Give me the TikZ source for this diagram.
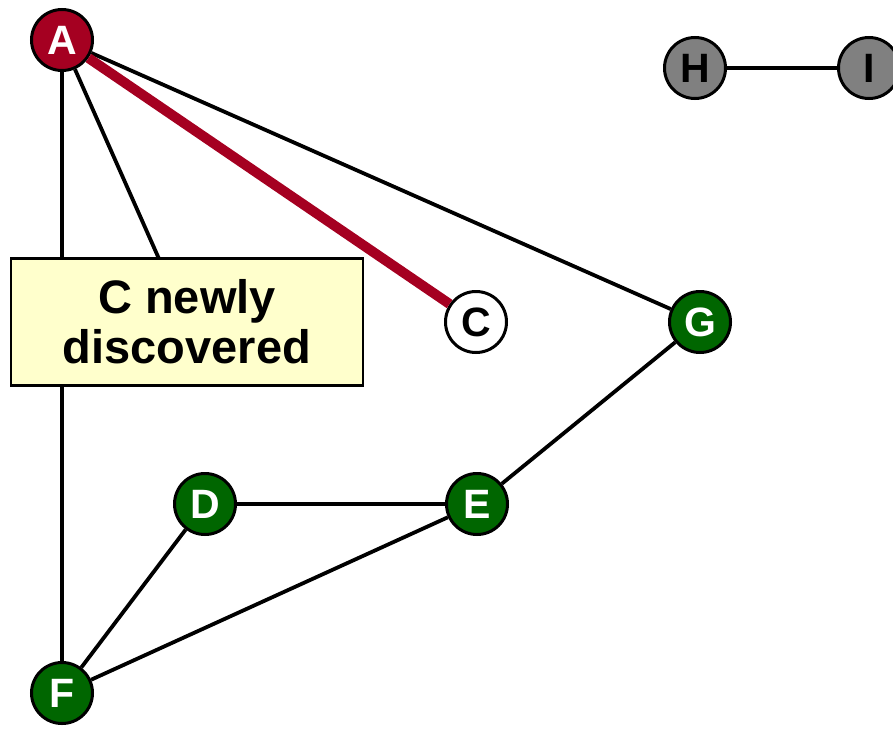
\documentclass[tikz,border=0pt]{standalone}
\usepackage{fontspec}
\setmainfont{Liberation Sans}
\usetikzlibrary{automata, positioning}
\definecolor{visitred}{HTML}{A50021}
\definecolor{donegreen}{HTML}{006600}
\definecolor{notefill}{HTML}{FFFFCC}
\tikzset{
    every state/.style={line width=3pt, minimum size=61pt, inner sep=0pt, font=\fontsize{41}{41}\selectfont\bfseries}, % sets the properties for each 'state' node
    done/.style={state, fill=donegreen, text=white}, % finished vertices
    idle/.style={state, fill=gray}, % vertices not reached
    link/.style={line width=3.8pt}, % plain graph edges
    tree/.style={line width=10pt, visitred}, % edge just used by the search
}

\begin{document}
\begin{tikzpicture}[x=1pt, y=-1pt
                  ]
                  \useasboundingbox (0,0) rectangle (893,728);
                  \clip (0,0) rectangle (893,728);
                  \node[state, fill=visitred, text=white] (a) at (62,40) {A};
                  \node[idle] (h) at (695,68) {H};
                  \node[idle] (i) at (869,68) {I};
                  \node[state, fill=white] (c) at (476,322) {C};
                  \node[done] (g) at (700,322) {G};
                  \node[done] (d) at (205,504) {D};
                  \node[done] (e) at (477,504) {E};
                  \node[done] (f) at (62,693) {F};
                  \coordinate (b) at (187,322);
                  \draw[link]
                  (a) edge (g)
                  (a) edge (f)
                  (a) edge (b)
                  (g) edge (e)
                  (d) edge (e)
                  (d) edge (f)
                  (e) edge (f)
                  (h) edge (i);
                  \draw[tree] (a) -- (c);
                  \node[draw, fill=notefill, line width=2.5pt, minimum width=352pt, minimum height=127pt,
                        align=center, font=\fontsize{47}{50}\selectfont\bfseries] (note) at (b) {C newly\\discovered};
              \end{tikzpicture}
\end{document}
